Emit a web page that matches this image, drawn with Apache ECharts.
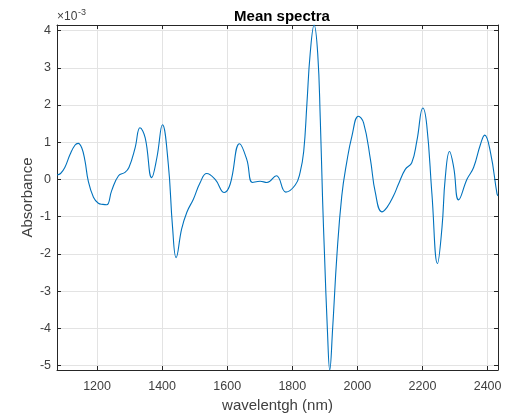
<!DOCTYPE html>
<html>
<head>
<meta charset="utf-8">
<script src="https://cdn.jsdelivr.net/npm/echarts@6/dist/echarts.min.js"></script>
<style>html,body{margin:0;padding:0;background:#fff}#c{width:505px;height:418px}</style>
</head>
<body>
<div id="c"></div>
<script>
// wavelength (nm)
var wavelength = [1077,1088,1101,1117,1132,1142,1153,1163,1173,1189,1204,1218,1230,1245,1266,1286,1298,1317,1332,1348,1368,1384,1401,1419,1432,1443,1460,1476,1496,1517,1537,1563,1591,1609,1638,1660,1678,1701,1722,1751,1780,1809,1824,1835,1845,1855,1867,1878,1886,1893,1899,1908,1915,1924,1937,1952,1967,1983,2003,2019,2040,2055,2075,2091,2111,2126,2147,2167,2183,2201,2213,2229,2246,2260,2270,2283,2296,2311,2337,2357,2378,2391,2409,2429,2432];
// mean absorbance, in units of 1e-3
var absorbance = [0.12,0.16,0.32,0.67,0.92,0.97,0.85,0.50,-0.04,-0.48,-0.64,-0.67,-0.68,-0.30,0.10,0.19,0.32,0.85,1.39,1.12,0.05,0.59,1.47,0.41,-1.28,-2.10,-1.33,-0.88,-0.53,-0.08,0.16,0.00,-0.35,-0.13,0.96,0.54,-0.08,-0.05,-0.08,0.10,-0.34,-0.15,0.19,0.75,2.05,3.39,4.15,3.39,1.61,-0.53,-2.04,-4.08,-5.12,-3.99,-2.04,-0.44,0.45,1.16,1.70,1.52,0.54,-0.35,-0.87,-0.75,-0.44,-0.13,0.27,0.45,1.05,1.92,1.47,-0.39,-2.26,-1.28,0.05,0.75,0.32,-0.55,0.01,0.32,0.94,1.19,0.72,-0.39,-0.44];
var xMin = 1077, xMax = 2432, yMin = -5.12, yMax = 4.15;

var pts = wavelength.map(function(w,i){return [w, absorbance[i]];});
var axisCol = '#262626', labCol = '#404040', gridCol = '#e3e3e3';
var font = '"Liberation Sans", Arial, Helvetica, sans-serif';
var chart = echarts.init(document.getElementById('c'));
chart.setOption({
  animation:false,
  title:{text:'Mean spectra', left:277, top:4, textAlign:'center',
    textStyle:{fontFamily:font, fontSize:15, fontWeight:'bold', color:'#000'}},
  grid:{left:57, top:25, right:7, bottom:46, containLabel:false},
  xAxis:[{type:'value', min:xMin, max:xMax, splitNumber:7, position:'bottom',
    name:'wavelentgh (nm)', nameLocation:'middle', nameGap:28, nameMoveOverlap:false,
    nameTextStyle:{fontFamily:font, fontSize:15, color:labCol},
    axisLine:{show:true, onZero:false, lineStyle:{color:axisCol, width:1}},
    axisTick:{show:true, inside:true, length:4, lineStyle:{color:axisCol}},
    axisLabel:{fontFamily:font, fontSize:12.5, color:labCol, margin:10, showMinLabel:false, showMaxLabel:false,
      formatter:function(v){return String(v);}},
    splitLine:{show:true, lineStyle:{color:gridCol, width:1}}},
   {type:'value', min:xMin, max:xMax, splitNumber:7, position:'top',
    axisLine:{show:true, onZero:false, lineStyle:{color:axisCol, width:1}},
    axisTick:{show:true, inside:true, length:4, lineStyle:{color:axisCol}},
    axisLabel:{show:false}, splitLine:{show:false}}],
  yAxis:[{type:'value', min:yMin, max:yMax, splitNumber:9, position:'left',
    name:'Absorbance', nameLocation:'middle', nameGap:22, nameMoveOverlap:false,
    nameTextStyle:{fontFamily:font, fontSize:15, color:labCol},
    axisLine:{show:true, onZero:false, lineStyle:{color:axisCol, width:1}},
    axisTick:{show:true, inside:true, length:4, lineStyle:{color:axisCol}},
    axisLabel:{fontFamily:font, fontSize:12.5, color:labCol, margin:6, showMinLabel:false, showMaxLabel:false},
    splitLine:{show:true, lineStyle:{color:gridCol, width:1}}},
   {type:'value', min:yMin, max:yMax, splitNumber:9, position:'right',
    axisLine:{show:true, onZero:false, lineStyle:{color:axisCol, width:1}},
    axisTick:{show:true, inside:true, length:4, lineStyle:{color:axisCol}},
    axisLabel:{show:false}, splitLine:{show:false}}],
  graphic:[{type:'text', left:57, top:11,
    style:{text:'×10', fontFamily:font, fontSize:12, fill:labCol}},
   {type:'text', left:78, top:8,
    style:{text:'-3', fontFamily:font, fontSize:9, fill:labCol}}],
  series:[{type:'line', data:pts, xAxisIndex:0, yAxisIndex:0, showSymbol:false,
    smooth:0.45, lineStyle:{color:'#0072BD', width:1.1}, clip:true}]
});
</script>
</body>
</html>
